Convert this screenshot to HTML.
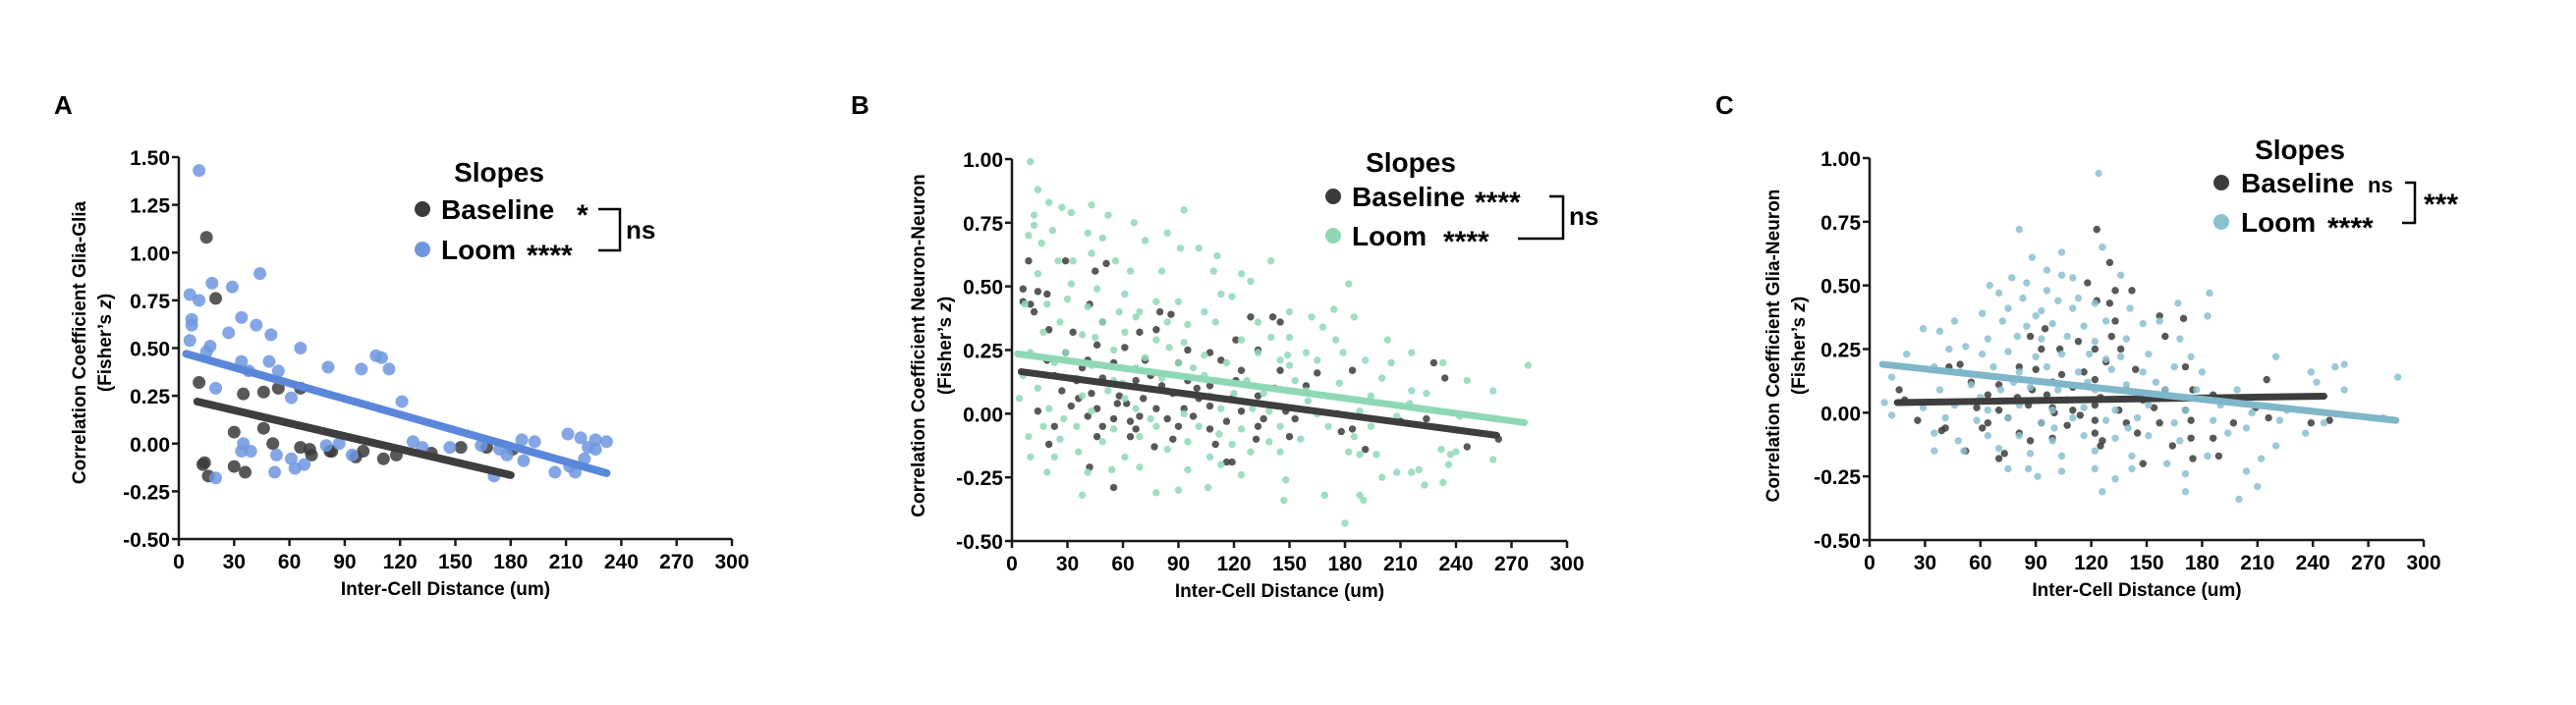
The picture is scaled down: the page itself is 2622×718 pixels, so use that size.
<!DOCTYPE html>
<html><head><meta charset="utf-8"><style>
html,body{margin:0;padding:0;background:#fff;}
svg{display:block;font-family:"Liberation Sans",Arial,sans-serif;font-weight:bold;}
</style></head><body>
<svg id="fig" width="2622" height="718" viewBox="0 0 2622 718" xmlns="http://www.w3.org/2000/svg">
<rect width="2622" height="718" fill="#fff"/>
<text x="55" y="116" font-size="26">A</text>
<text x="866" y="116" font-size="26">B</text>
<text x="1746" y="116" font-size="26">C</text>
<g id="pA"></g>
<g id="pB"></g>
<g id="pC"></g>

<!-- Legend A -->
<g font-size="28">
<text x="508" y="185" text-anchor="middle">Slopes</text>
<circle cx="430" cy="213" r="8" fill="#3b3b3b"/>
<text x="449" y="223">Baseline</text>
<text x="587" y="229" font-size="30">*</text>
<circle cx="430" cy="254" r="8" fill="#6f97e0"/>
<text x="449" y="264">Loom</text>
<text x="536" y="270" font-size="30">****</text>
<path d="M609 213H631V255H609" fill="none" stroke="#000" stroke-width="2.5"/>
<text x="637" y="243" font-size="26">ns</text>
</g>
<!-- Legend B -->
<g font-size="28">
<text x="1436" y="175" text-anchor="middle">Slopes</text>
<circle cx="1357" cy="200" r="8" fill="#3b3b3b"/>
<text x="1376" y="210">Baseline</text>
<text x="1501" y="216" font-size="30">****</text>
<circle cx="1357" cy="240" r="8" fill="#8fd8b6"/>
<text x="1376" y="250">Loom</text>
<text x="1469" y="256" font-size="30">****</text>
<path d="M1577 200H1591V243H1545" fill="none" stroke="#000" stroke-width="2.5"/>
<text x="1597" y="229" font-size="26">ns</text>
</g>
<!-- Legend C -->
<g font-size="28">
<text x="2341" y="162" text-anchor="middle">Slopes</text>
<circle cx="2261" cy="186" r="8" fill="#3b3b3b"/>
<text x="2281" y="196">Baseline</text>
<text x="2410" y="196" font-size="22">ns</text>
<circle cx="2261" cy="226" r="8" fill="#8bbfd0"/>
<text x="2281" y="236">Loom</text>
<text x="2369" y="242" font-size="30">****</text>
<path d="M2448 186H2458V227H2445" fill="none" stroke="#000" stroke-width="2.5"/>
<text x="2467" y="218" font-size="30">***</text>
</g>
</svg>
<script>
// ---------- Panel A data ----------
const aTicksY = [1.5,1.25,1.0,0.75,0.5,0.25,0,-0.25,-0.5];
const aTickLabelsY = ["1.50","1.25","1.00","0.75","0.50","0.25","0.00","-0.25","-0.50"];
const xTicks = [0,30,60,90,120,150,180,210,240,270,300];
const aLoom = [[11,1.43],[6,0.78],[11,0.75],[18,0.84],[29,0.82],[44,0.89],[7,0.65],[7,0.62],[6,0.54],[27,0.58],[34,0.66],[42,0.62],[50,0.57],[66,0.50],[17,0.51],[15,0.48],[34,0.43],[49,0.43],[38,0.38],[54,0.38],[81,0.40],[99,0.39],[107,0.46],[110,0.45],[114,0.39],[20,0.29],[61,0.24],[121,0.22],[35,0.00],[34,-0.04],[39,-0.04],[53,-0.06],[61,-0.08],[63,-0.13],[68,-0.11],[52,-0.15],[20,-0.18],[80,-0.01],[87,0.0],[94,-0.06],[127,0.01],[132,-0.02],[147,-0.02],[164,-0.01],[171,-0.17],[174,-0.03],[178,-0.06],[186,0.02],[187,-0.09],[193,0.01],[204,-0.15],[211,0.05],[212,-0.12],[215,-0.15],[218,0.03],[220,-0.08],[222,-0.02],[226,0.02],[226,-0.03],[232,0.01]];
const aBase = [[15,1.08],[20,0.76],[11,0.32],[35,0.26],[46,0.27],[54,0.29],[66,0.29],[30,0.06],[46,0.08],[51,0.0],[14,-0.10],[13,-0.11],[16,-0.17],[30,-0.12],[36,-0.15],[66,-0.02],[71,-0.03],[72,-0.06],[82,-0.04],[83,-0.04],[96,-0.07],[100,-0.04],[111,-0.08],[118,-0.06],[137,-0.05],[153,-0.02],[167,-0.02],[181,-0.03]];
const aLoomFit = [4,0.47,232,-0.155];
const aBaseFit = [10,0.22,180,-0.165];

// ---------- Panel B data ----------
const bcTicksY = [1.0,0.75,0.5,0.25,0,-0.25,-0.5];
const bcTickLabelsY = ["1.00","0.75","0.50","0.25","0.00","-0.25","-0.50"];
const bLoom = [[10,0.99],[14,0.88],[20,0.83],[27,0.81],[32,0.79],[43,0.82],[52,0.78],[66,0.75],[93,0.80],[12,0.78],[12,0.74],[22,0.72],[9,0.70],[41,0.71],[49,0.69],[84,0.71],[91,0.65],[101,0.65],[72,0.68],[111,0.62],[140,0.60],[16,0.67],[25,0.60],[33,0.60],[43,0.63],[56,0.60],[64,0.56],[81,0.56],[109,0.56],[124,0.55],[14,0.55],[32,0.51],[46,0.49],[61,0.47],[78,0.44],[90,0.44],[113,0.47],[129,0.52],[119,0.46],[182,0.51],[7,0.43],[19,0.43],[41,0.42],[58,0.40],[69,0.40],[104,0.40],[150,0.40],[174,0.41],[26,0.36],[49,0.36],[67,0.38],[84,0.36],[95,0.35],[110,0.36],[133,0.36],[162,0.38],[168,0.34],[185,0.38],[17,0.32],[38,0.31],[61,0.32],[78,0.29],[93,0.28],[124,0.29],[150,0.30],[175,0.29],[203,0.29],[10,0.24],[29,0.24],[55,0.25],[72,0.22],[104,0.23],[133,0.24],[149,0.23],[159,0.24],[179,0.24],[216,0.24],[23,0.20],[43,0.19],[67,0.18],[90,0.20],[116,0.20],[145,0.21],[165,0.21],[191,0.21],[205,0.20],[233,0.20],[279,0.19],[6,0.15],[35,0.14],[55,0.13],[81,0.14],[104,0.15],[127,0.13],[153,0.13],[177,0.12],[200,0.14],[246,0.13],[14,0.10],[38,0.07],[61,0.06],[84,0.09],[107,0.07],[136,0.08],[159,0.09],[194,0.07],[216,0.09],[224,0.08],[260,0.09],[4,0.06],[20,0.02],[43,0.01],[67,0.02],[93,0.00],[113,0.02],[139,0.01],[165,0.00],[188,0.01],[208,-0.01],[242,-0.01],[17,-0.05],[35,-0.05],[55,-0.06],[78,-0.05],[101,-0.05],[124,-0.06],[145,-0.05],[171,-0.05],[194,-0.05],[9,-0.09],[26,-0.10],[49,-0.11],[69,-0.09],[95,-0.11],[119,-0.12],[139,-0.11],[156,-0.10],[182,-0.15],[232,-0.14],[240,-0.15],[10,-0.17],[23,-0.17],[36,-0.15],[61,-0.17],[84,-0.14],[107,-0.17],[129,-0.15],[145,-0.15],[188,-0.16],[197,-0.16],[237,-0.16],[19,-0.23],[41,-0.23],[54,-0.22],[69,-0.21],[95,-0.22],[113,-0.20],[124,-0.24],[148,-0.26],[200,-0.25],[208,-0.23],[216,-0.23],[220,-0.22],[236,-0.20],[38,-0.32],[78,-0.31],[90,-0.30],[106,-0.29],[169,-0.32],[147,-0.34],[188,-0.32],[190,-0.34],[223,-0.28],[233,-0.27],[260,-0.18],[180,-0.43],[30,0.45],[45,0.30],[60,0.12],[85,0.26],[98,0.18],[120,0.08],[140,0.30],[160,0.05],[28,-0.02],[52,0.09],[75,-0.02],[112,-0.08],[130,0.02],[150,0.19],[185,-0.09],[215,0.04]];
const bBase = [[9,0.60],[29,0.60],[6,0.49],[6,0.44],[10,0.43],[12,0.40],[14,0.48],[19,0.47],[45,0.56],[51,0.59],[42,0.43],[80,0.40],[86,0.39],[129,0.38],[141,0.38],[145,0.36],[49,0.36],[69,0.32],[78,0.33],[33,0.32],[20,0.33],[121,0.29],[46,0.27],[61,0.26],[95,0.25],[107,0.24],[133,0.25],[29,0.24],[228,0.20],[234,0.14],[19,0.21],[41,0.21],[55,0.20],[72,0.21],[90,0.20],[113,0.21],[124,0.17],[145,0.17],[165,0.16],[184,0.17],[23,0.15],[35,0.13],[49,0.14],[67,0.13],[81,0.11],[95,0.13],[107,0.11],[121,0.13],[142,0.10],[159,0.11],[27,0.09],[43,0.08],[58,0.07],[71,0.06],[87,0.08],[101,0.06],[119,0.06],[133,0.07],[32,0.03],[46,0.02],[62,0.04],[78,0.02],[93,0.02],[107,0.03],[124,0.01],[148,0.01],[176,0.00],[14,0.01],[41,-0.01],[55,-0.02],[69,-0.01],[84,-0.02],[98,-0.01],[116,-0.03],[136,-0.02],[153,-0.02],[23,-0.05],[49,-0.05],[67,-0.06],[90,-0.05],[107,-0.06],[133,-0.05],[184,-0.06],[224,-0.02],[46,-0.09],[64,-0.09],[87,-0.10],[110,-0.12],[132,-0.10],[150,-0.09],[20,-0.12],[42,-0.21],[116,-0.19],[119,-0.19],[55,-0.29],[77,-0.13],[246,-0.13],[191,-0.14],[263,-0.10],[178,-0.07],[210,-0.03],[38,0.18],[57,0.04],[75,0.15],[100,0.10],[36,0.06],[64,-0.03]];
const bLoomFit = [3,0.235,277,-0.035];
const bBaseFit = [5,0.165,262,-0.085];

// ---------- Panel C data ----------
const cLoom = [[124,0.94],[81,0.72],[126,0.65],[88,0.61],[104,0.63],[96,0.56],[104,0.54],[110,0.53],[77,0.53],[65,0.50],[85,0.51],[96,0.48],[136,0.54],[184,0.47],[70,0.47],[83,0.45],[102,0.44],[113,0.45],[122,0.43],[75,0.41],[61,0.39],[93,0.40],[110,0.41],[141,0.41],[167,0.43],[183,0.38],[29,0.33],[46,0.36],[72,0.36],[85,0.34],[99,0.35],[116,0.34],[128,0.36],[148,0.35],[157,0.36],[38,0.32],[64,0.29],[80,0.30],[93,0.29],[107,0.30],[122,0.28],[139,0.29],[168,0.29],[43,0.25],[52,0.26],[61,0.23],[75,0.24],[90,0.22],[104,0.23],[119,0.23],[136,0.22],[151,0.23],[174,0.22],[220,0.22],[20,0.23],[12,0.14],[35,0.18],[49,0.16],[67,0.18],[81,0.16],[96,0.18],[113,0.16],[131,0.17],[148,0.16],[165,0.18],[180,0.16],[257,0.19],[252,0.18],[239,0.16],[38,0.09],[55,0.11],[71,0.09],[87,0.10],[102,0.09],[122,0.09],[139,0.11],[160,0.09],[177,0.09],[199,0.09],[257,0.09],[286,0.14],[242,0.12],[8,0.04],[29,0.02],[46,0.03],[64,0.01],[81,0.03],[99,0.01],[116,0.02],[133,0.01],[151,0.03],[171,0.01],[190,0.03],[207,0.00],[226,0.01],[12,-0.01],[41,-0.02],[58,-0.03],[75,-0.02],[93,-0.04],[110,-0.02],[128,-0.03],[145,-0.02],[165,-0.04],[186,-0.03],[204,-0.06],[222,-0.03],[246,-0.04],[278,-0.02],[35,-0.08],[48,-0.11],[64,-0.09],[81,-0.09],[99,-0.11],[116,-0.09],[133,-0.10],[151,-0.09],[168,-0.11],[194,-0.08],[220,-0.13],[236,-0.08],[35,-0.15],[51,-0.15],[70,-0.14],[87,-0.16],[104,-0.17],[122,-0.15],[142,-0.17],[161,-0.20],[183,-0.17],[212,-0.18],[75,-0.22],[91,-0.25],[104,-0.23],[122,-0.22],[142,-0.22],[171,-0.24],[204,-0.23],[133,-0.26],[126,-0.31],[171,-0.31],[210,-0.29],[200,-0.34],[86,-0.22],[90,0.38],[118,0.12],[140,-0.06],[60,0.06],[100,-0.06],[155,0.12],[78,0.12],[128,0.21]];
const cBase = [[123,0.72],[130,0.59],[118,0.51],[133,0.48],[142,0.48],[123,0.44],[130,0.43],[170,0.37],[157,0.38],[133,0.36],[95,0.33],[87,0.30],[113,0.28],[131,0.30],[160,0.30],[93,0.25],[103,0.25],[122,0.25],[136,0.25],[43,0.18],[49,0.19],[81,0.18],[90,0.17],[116,0.16],[128,0.20],[144,0.17],[171,0.18],[215,0.13],[55,0.12],[70,0.11],[99,0.12],[110,0.10],[122,0.13],[139,0.09],[160,0.09],[175,0.09],[16,0.09],[19,0.05],[64,0.07],[80,0.06],[96,0.07],[107,0.05],[125,0.06],[148,0.05],[186,0.07],[58,0.02],[70,0.01],[86,0.03],[99,0.02],[110,0.01],[122,0.03],[135,0.01],[154,0.02],[171,0.01],[209,0.02],[26,-0.03],[41,-0.06],[64,-0.04],[75,-0.02],[93,-0.04],[107,-0.05],[122,-0.03],[139,-0.04],[157,-0.04],[174,-0.03],[197,-0.04],[216,-0.02],[239,-0.04],[249,-0.03],[39,-0.07],[61,-0.06],[81,-0.08],[99,-0.10],[122,-0.08],[145,-0.08],[174,-0.10],[87,-0.11],[126,-0.11],[186,-0.10],[52,-0.15],[73,-0.16],[70,-0.18],[164,-0.13],[189,-0.17],[175,-0.18],[148,-0.20],[125,-0.13],[100,0.0],[114,-0.01],[88,0.09],[104,0.15]];
const cLoomFit = [7,0.19,285,-0.03];
const cBaseFit = [15,0.04,246,0.065];

const NS = "http://www.w3.org/2000/svg";
function mk(tag, attrs, parent){
  const e = document.createElementNS(NS, tag);
  for (const k in attrs) e.setAttribute(k, attrs[k]);
  parent.appendChild(e);
  return e;
}

function drawPanel(cfg){
  const g = document.getElementById(cfg.id);
  const xs = v => cfg.x0 + (v - 0) / 300 * (cfg.x1 - cfg.x0);
  const ys = v => cfg.yBot - (v - (-0.5)) / (cfg.yMax + 0.5) * (cfg.yBot - cfg.yTop);
  const baseG = mk('g', {}, g);
  
  
  const loomG = mk('g', {}, g);
  
  
  const drawPts = (arr, grp, color, op, nm) => {
    arr.forEach(p => {
      const c = mk('circle', {cx: xs(p[0]), cy: ys(p[1]), r: cfg.r, fill: color, 'fill-opacity': op}, grp);
      
      
    });
  };
  if (cfg.loomFirst) {
    drawPts(cfg.loom, loomG, cfg.loomColor, cfg.op, 'loom-point');
    drawPts(cfg.base, baseG, '#3b3b3b', cfg.op, 'baseline-point');
    g.appendChild(loomG);
  } else {
    drawPts(cfg.base, baseG, '#3b3b3b', cfg.op, 'baseline-point');
    drawPts(cfg.loom, loomG, cfg.loomColor, cfg.op, 'loom-point');
  }
  const fit = (f, color, nm) => {
    const l = mk('line', {x1: xs(f[0]), y1: ys(f[1]), x2: xs(f[2]), y2: ys(f[3]), stroke: color, 'stroke-width': cfg.lw, 'stroke-linecap': 'round'}, g);
    
    
  };
  fit(cfg.baseFit, '#3e3e3e', cfg.key + '-baseline-fit-line');
  fit(cfg.loomFit, cfg.lineColor, cfg.key + '-loom-fit-line');
  const ax = mk('path', {d: `M${cfg.x0} ${cfg.yTop}V${cfg.yBot}H${cfg.x1}`, fill: 'none', stroke: '#1a1a1a', 'stroke-width': 2.5}, g);
  
  
  cfg.ticksY.forEach((t, i) => {
    const y = ys(t);
    mk('line', {x1: cfg.x0 - 7, x2: cfg.x0, y1: y, y2: y, stroke: '#1a1a1a', 'stroke-width': 2.5}, g);
    const tx = mk('text', {x: cfg.x0 - 9, y: y + 8, 'text-anchor': 'end', 'font-size': 21}, g);
    tx.textContent = cfg.labelsY[i];
    
    
  });
  xTicks.forEach(t => {
    const x = xs(t);
    mk('line', {x1: x, x2: x, y1: cfg.yBot, y2: cfg.yBot + 7, stroke: '#1a1a1a', 'stroke-width': 2.5}, g);
    const tx = mk('text', {x: x, y: cfg.yBot + 30, 'text-anchor': 'middle', 'font-size': 21}, g);
    tx.textContent = String(t);
    
    
  });
  const xt = mk('text', {x: (cfg.x0 + cfg.x1) / 2 - 10, y: cfg.yBot + 57, 'text-anchor': 'middle', 'font-size': 19}, g);
  xt.textContent = 'Inter-Cell Distance (um)';
  
  
  const yt = mk('text', {transform: `translate(${cfg.yt1},${cfg.ytc}) rotate(-90)`, 'text-anchor': 'middle', 'font-size': 19}, g);
  yt.textContent = cfg.ytitle;
  
  
  const yt2 = mk('text', {transform: `translate(${cfg.yt2},${cfg.ytc}) rotate(-90)`, 'text-anchor': 'middle', 'font-size': 19}, g);
  yt2.innerHTML = 'Fisher\u2019s <tspan font-style="italic">z</tspan>)';
  yt2.insertBefore(document.createTextNode('('), yt2.firstChild);
  
  
}

drawPanel({id:'pA', key:'panel-a', x0:182, x1:745, yTop:160, yBot:549, yMax:1.5, ticksY:aTicksY, labelsY:aTickLabelsY,
  loom:aLoom, base:aBase, loomFit:aLoomFit, baseFit:aBaseFit, loomColor:'#6f97e0', lineColor:'#5a87da', op:0.85, r:6.5, lw:8,
  yt1:87, yt2:113, ytc:349, ytitle:'Correlation Coefficient Glia-Glia', loomFirst:false});
drawPanel({id:'pB', key:'panel-b', x0:1030, x1:1595, yTop:162, yBot:551, yMax:1.0, ticksY:bcTicksY, labelsY:bcTickLabelsY,
  loom:bLoom, base:bBase, loomFit:bLoomFit, baseFit:bBaseFit, loomColor:'#8fd8b6', lineColor:'#8fd8b6', op:0.85, r:3.7, lw:7,
  yt1:941, yt2:968, ytc:352, ytitle:'Correlation Coefficient Neuron-Neuron', loomFirst:true});
drawPanel({id:'pC', key:'panel-c', x0:1903, x1:2467, yTop:161, yBot:550, yMax:1.0, ticksY:bcTicksY, labelsY:bcTickLabelsY,
  loom:cLoom, base:cBase, loomFit:cLoomFit, baseFit:cBaseFit, loomColor:'#8bbfd0', lineColor:'#7fb6c9', op:0.85, r:3.7, lw:7,
  yt1:1811, yt2:1837, ytc:352, ytitle:'Correlation Coefficient Glia-Neuron', loomFirst:true});
</script>
</body></html>
